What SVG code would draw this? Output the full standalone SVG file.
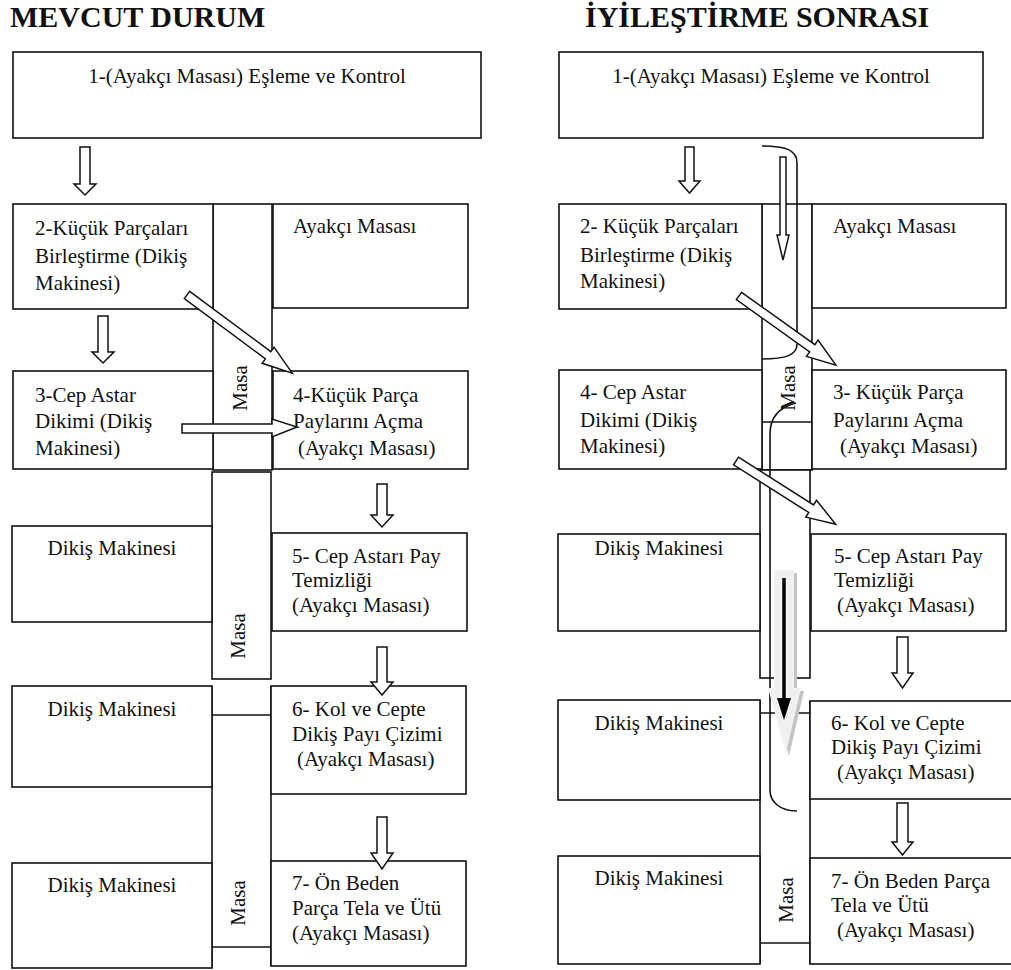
<svg xmlns="http://www.w3.org/2000/svg" width="1011" height="970" viewBox="0 0 1011 970">
<style>
.bx{fill:#fff;stroke:#111;stroke-width:1.6}
.ln{fill:none;stroke:#111;stroke-width:1.6}
.ar{fill:#fff;stroke:#111;stroke-width:1.5;stroke-linejoin:miter}
.t{font-family:"Liberation Serif","Tinos","Nimbus Roman","Times New Roman","DejaVu Serif",serif;font-size:21px;fill:#111}
.tc{text-anchor:middle}
.h{font-family:"Liberation Serif","Tinos","Nimbus Roman","Times New Roman","DejaVu Serif",serif;font-size:30px;font-weight:bold;fill:#111}
</style>
<rect width="1011" height="970" fill="#fff"/>
<text class="h" x="10" y="27">MEVCUT DURUM</text>
<text class="h" x="585" y="27">İYİLEŞTİRME SONRASI</text>

<!-- LEFT: masa tables -->
<g id="L-masa1"><rect class="bx" x="213" y="204" width="59" height="266"/><text class="t tc" transform="rotate(-90 247 388)" x="247" y="388">Masa</text></g>
<g id="L-masa2"><rect class="bx" x="212" y="472" width="59" height="207"/><text class="t tc" transform="rotate(-90 245 636)" x="245" y="636">Masa</text></g>
<g id="L-masa3"><path class="ln" d="M212 715 H271 M212 947 H271 M212 686 V968 M271 686 V966"/><text class="t tc" transform="rotate(-90 245 903)" x="245" y="903">Masa</text></g>

<g id="L-n1"><rect class="bx" x="13" y="52" width="468" height="86"/><text class="t tc" x="247" y="83">1-(Ayakçı Masası) Eşleme ve Kontrol</text></g>
<g id="L-n2"><rect class="bx" x="13" y="204" width="200" height="105"/><text class="t" x="35" y="235">2-Küçük Parçaları</text><text class="t" x="35" y="263">Birleştirme (Dikiş</text><text class="t" x="35" y="290">Makinesi)</text></g>
<g id="L-ayakci"><rect class="bx" x="273" y="204" width="195" height="104"/><text class="t" x="293" y="233">Ayakçı Masası</text></g>
<g id="L-n3"><rect class="bx" x="13" y="371" width="200" height="98"/><text class="t" x="35" y="402">3-Cep Astar</text><text class="t" x="35" y="428">Dikimi (Dikiş</text><text class="t" x="35" y="455">Makinesi)</text></g>
<g id="L-n4"><rect class="bx" x="273" y="371" width="195" height="98"/><text class="t" x="293" y="402">4-Küçük Parça</text><text class="t" x="293" y="428">Paylarını Açma</text><text class="t" x="298" y="455">(Ayakçı Masası)</text></g>
<g id="L-dm1"><rect class="bx" x="12" y="526" width="200" height="96"/><text class="t tc" x="112" y="555">Dikiş Makinesi</text></g>
<g id="L-n5"><rect class="bx" x="272" y="533" width="195" height="98"/><text class="t" x="292" y="563">5- Cep Astarı Pay</text><text class="t" x="292" y="587">Temizliği</text><text class="t" x="292" y="612">(Ayakçı Masası)</text></g>
<g id="L-dm2"><rect class="bx" x="12" y="686" width="200" height="101"/><text class="t tc" x="112" y="716">Dikiş Makinesi</text></g>
<g id="L-n6"><rect class="bx" x="271" y="686" width="195" height="108"/><text class="t" x="292" y="716">6- Kol ve Cepte</text><text class="t" x="292" y="741">Dikiş Payı Çizimi</text><text class="t" x="297" y="766">(Ayakçı Masası)</text></g>
<g id="L-dm3"><rect class="bx" x="12" y="863" width="200" height="105"/><text class="t tc" x="112" y="892">Dikiş Makinesi</text></g>
<g id="L-n7"><rect class="bx" x="271" y="861" width="195" height="105"/><text class="t" x="292" y="890">7- Ön Beden</text><text class="t" x="292" y="915">Parça Tela ve Ütü</text><text class="t" x="292" y="940">(Ayakçı Masası)</text></g>

<!-- RIGHT -->
<g id="R-masa1"><rect class="bx" x="762" y="204" width="50" height="266"/><text class="t tc" transform="rotate(-90 795 388)" x="795" y="388">Masa</text></g>
<g id="R-masa2"><rect class="bx" x="760" y="470" width="50" height="208"/></g>
<g id="R-masa3"><path class="ln" d="M760 713 H810 M760 943 H810 M760 700 V964 M810 701 V964"/><text class="t tc" transform="rotate(-90 793 900)" x="793" y="900">Masa</text></g>

<g id="R-n1"><rect class="bx" x="559" y="52" width="424" height="86"/><text class="t tc" x="771" y="83">1-(Ayakçı Masası) Eşleme ve Kontrol</text></g>
<g id="R-n2"><rect class="bx" x="559" y="204" width="203" height="105"/><text class="t" x="580" y="233">2- Küçük Parçaları</text><text class="t" x="580" y="262">Birleştirme (Dikiş</text><text class="t" x="580" y="288">Makinesi)</text></g>
<g id="R-ayakci"><rect class="bx" x="812" y="204" width="194" height="104"/><text class="t" x="833" y="233">Ayakçı Masası</text></g>
<g id="R-n4"><rect class="bx" x="559" y="370" width="203" height="99"/><text class="t" x="580" y="399">4- Cep Astar</text><text class="t" x="580" y="427">Dikimi (Dikiş</text><text class="t" x="580" y="453">Makinesi)</text></g>
<g id="R-n3"><rect class="bx" x="812" y="370" width="194" height="99"/><text class="t" x="833" y="399">3- Küçük Parça</text><text class="t" x="833" y="427">Paylarını Açma</text><text class="t" x="840" y="453">(Ayakçı Masası)</text></g>
<g id="R-dm1"><rect class="bx" x="558" y="534" width="202" height="97"/><text class="t tc" x="659" y="555">Dikiş Makinesi</text></g>
<g id="R-n5"><rect class="bx" x="811" y="534" width="195" height="97"/><text class="t" x="834" y="563">5- Cep Astarı Pay</text><text class="t" x="834" y="587">Temizliği</text><text class="t" x="837" y="612">(Ayakçı Masası)</text></g>
<g id="R-dm2"><rect class="bx" x="558" y="700" width="202" height="100"/><text class="t tc" x="659" y="730">Dikiş Makinesi</text></g>
<g id="R-n6"><rect class="bx" x="810" y="701" width="202" height="98"/><text class="t" x="831" y="730">6- Kol ve Cepte</text><text class="t" x="831" y="754">Dikiş Payı Çizimi</text><text class="t" x="837" y="779">(Ayakçı Masası)</text></g>
<g id="R-dm3"><rect class="bx" x="558" y="856" width="202" height="108"/><text class="t tc" x="659" y="885">Dikiş Makinesi</text></g>
<g id="R-n7"><rect class="bx" x="810" y="858" width="202" height="106"/><text class="t" x="831" y="888">7- Ön Beden Parça</text><text class="t" x="831" y="912">Tela ve Ütü</text><text class="t" x="837" y="937">(Ayakçı Masası)</text></g>

<!-- connectors -->
<g id="connectors">
<path class="ln" d="M762 146 C786 146 797 150 797 163 V344 C797 355 786 359 762 359"/>
<path class="ln" d="M762 422 H812"/>
<path class="ln" d="M796 403 C780 407 770 417 770 434 V790 C770 802 780 811 797 811"/>
<path class="ar" d="M80 147 H90 V184 H96 L85 195 L74 184 H80 Z"/>
<path class="ar" d="M98 316 H108 V352 H114 L103 363 L92 352 H98 Z"/>
<path class="ar" d="M377 484 H387 V515 H393 L382 527 L371 515 H377 Z"/>
<path class="ar" d="M377 647 H387 V682 H393 L382 695 L371 682 H377 Z"/>
<path class="ar" d="M377 817 H387 V853 H393 L382 869 L371 853 H377 Z"/>
<path class="ar" transform="translate(187 295) rotate(36.6)" d="M0 -4.5 H101 V-10 L131 0 L101 10 V4.5 H0 Z"/>
<path class="ar" d="M182 424 H272 V419 L297 427 L272 437 V433 H182 Z"/>
<path class="ar" d="M685 147 H694 V181 H700 L689.5 193 L679 181 H685 Z"/>
<path class="ar" d="M780 157 H786 V235 H789 L783 260 L777 235 H780 Z"/>
<path class="ar" d="M897 637 H908 V673 H913 L902.5 688 L892 673 H897 Z"/>
<path class="ar" d="M897 803 H908 V842 H913 L902.5 855 L892 842 H897 Z"/>
<path class="ar" transform="translate(739 296) rotate(35.5)" d="M0 -4.5 H90 V-10 L119 0 L90 10 V4.5 H0 Z"/>
<path class="ar" transform="translate(736 461) rotate(32.4)" d="M0 -4.5 H89 V-10 L118 0 L89 10 V4.5 H0 Z"/>
<path d="M777 573 H797 V691 H804 L789 756 L771 691 H777 Z" fill="#c4c4c4"/>
<path d="M774 570 H794 V688 H801 L786 753 L768 688 H774 Z" fill="#f0f0f0"/>
<path d="M784 578 V700" stroke="#000" stroke-width="3.5" fill="none"/>
<path d="M777 698 H791 L784 720 Z" fill="#000"/>
</g>
</svg>
